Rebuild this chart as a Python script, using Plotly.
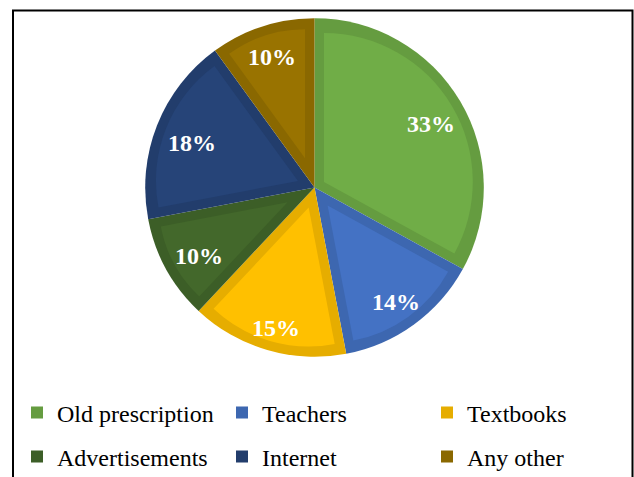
import math
import plotly.graph_objects as go

# Sources of information and their shares (%)
labels = ["Old prescription", "Teachers", "Textbooks", "Advertisements", "Internet", "Any other"]
shares = [33, 14, 15, 10, 18, 10]

# Face colour of each slice and the darker rim drawn around it
fill_colors = ["#70AD47", "#4472C4", "#FFC000", "#43682B", "#264478", "#997300"]
edge_colors = ["#659C40", "#3D67B0", "#E6AD00", "#3C5E27", "#223D6C", "#8A6800"]

# Legend rows (indices into labels)
legend_rows = [("legend", [0, 1, 2]), ("legend2", [3, 4, 5])]

W, H = 634, 477
CX, CY, R = 314.5, 187.5, 169.3   # pie centre / radius in px
RIM = 9.5                          # rim thickness in px
CLEAR = "rgba(0,0,0,0)"
TOTAL = sum(shares)

LABEL_FONT = dict(family="Liberation Serif", size=24, color="white", weight="bold")
LABEL_HALF_W, LABEL_HALF_H = 24.0, 11.0   # half extent of a "NN%" label
LABEL_MARGIN = 10.0                        # gap between label box and rim


def domain_for(cx, cy, r):
    return dict(x=[(cx - r) / W, (cx + r) / W], y=[1 - (cy + r) / H, 1 - (cy - r) / H])


def start_angle(i):
    return sum(shares[:i]) / TOTAL * 360.0


fig = go.Figure()

# Full-size pie in the rim colours, split in two so each half feeds one legend row
for legend_id, idx in legend_rows:
    rest = TOTAL - sum(shares[i] for i in idx)
    fig.add_trace(go.Pie(
        labels=[labels[i] for i in idx] + [" "],
        values=[shares[i] for i in idx] + [rest],
        marker=dict(colors=[edge_colors[i] for i in idx] + [CLEAR], line=dict(width=0)),
        sort=False, direction="clockwise", rotation=start_angle(idx[0]),
        domain=domain_for(CX, CY, R),
        textinfo="none", hoverinfo="label+percent",
        legend=legend_id, showlegend=True,
    ))

annotations = []
# Inset face of each slice, pulled in by the rim width on every side
for i, v in enumerate(shares):
    start = start_angle(i)
    span = v / TOTAL * 360.0
    mid = math.radians(start + span / 2)
    s, c = math.sin(mid), math.cos(mid)
    d = RIM / math.sin(math.radians(span / 2))
    r = R - RIM - d
    fig.add_trace(go.Pie(
        labels=[labels[i], "rest"],
        values=[v, TOTAL - v],
        marker=dict(colors=[fill_colors[i], CLEAR], line=dict(width=0)),
        sort=False, direction="clockwise", rotation=start,
        domain=domain_for(CX + d * s, CY - d * c, r),
        textinfo="none", hoverinfo="skip", showlegend=False,
    ))

    # Percentage label near the outer end of the slice, along its bisector
    dist = R - LABEL_MARGIN - (LABEL_HALF_W * abs(s) + LABEL_HALF_H * abs(c))
    annotations.append(dict(
        text=f"{v}%", x=(CX + dist * s) / W, y=1 - (CY - dist * c) / H,
        xref="paper", yref="paper", xanchor="center", yanchor="middle",
        xshift=1.5, yshift=-4,
        showarrow=False, font=LABEL_FONT,
    ))

# Chart frame
fig.add_shape(type="rect", xref="paper", yref="paper",
              x0=13 / W, x1=632.5 / W, y0=1 - 490 / H, y1=1 - 10.5 / H,
              line=dict(color="black", width=2), fillcolor=CLEAR, layer="above")

legend_style = dict(orientation="h", xanchor="left", yanchor="top",
                    font=dict(family="Liberation Serif", size=24, color="black"),
                    entrywidth=160, entrywidthmode="pixels", bgcolor=CLEAR,
                    itemclick=False, itemdoubleclick=False)

fig.update_layout(
    width=W, height=H,
    margin=dict(l=0, r=0, t=0, b=0, autoexpand=False),
    paper_bgcolor="white", plot_bgcolor="white",
    showlegend=True,
    annotations=annotations,
    legend=dict(legend_style, x=17 / W, y=1 - 390.5 / H),
    legend2=dict(legend_style, x=17 / W, y=1 - 434.3 / H),
)

fig.write_html("out.html")
